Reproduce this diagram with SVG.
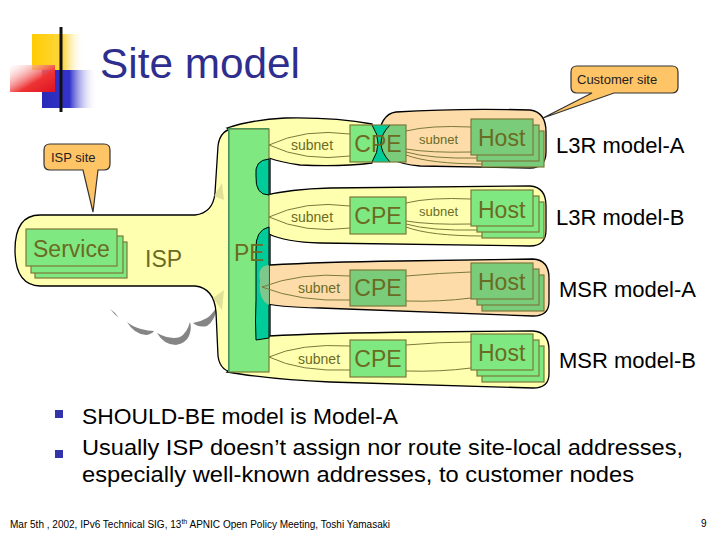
<svg xmlns="http://www.w3.org/2000/svg" width="720" height="540" viewBox="0 0 720 540">
<defs>
<linearGradient id="gY" x1="0" y1="0" x2="1" y2="0"><stop offset="0" stop-color="#ffcc00"/><stop offset="0.6" stop-color="#ffd740"/><stop offset="1" stop-color="#ffffff" stop-opacity="0"/></linearGradient>
<linearGradient id="gR" x1="0" y1="0" x2="1" y2="1"><stop offset="0" stop-color="#ffffff" stop-opacity="0.3"/><stop offset="0.6" stop-color="#ee3333"/><stop offset="1" stop-color="#dd1122"/></linearGradient>
<linearGradient id="gB" x1="0" y1="0" x2="1" y2="0"><stop offset="0" stop-color="#2a2ab8"/><stop offset="0.5" stop-color="#3333cc"/><stop offset="1" stop-color="#ffffff" stop-opacity="0"/></linearGradient>
<linearGradient id="gL" x1="0" y1="0" x2="1" y2="0"><stop offset="0" stop-color="#111111"/><stop offset="0.5" stop-color="#777777"/><stop offset="1" stop-color="#e6e6e6"/></linearGradient>
<g id="hostL"><rect x="11" y="12" width="62" height="36"/><rect x="6" y="6" width="62" height="36"/><rect x="0" y="0" width="62" height="36"/></g>
</defs>
<style>
.olv{font-family:"Liberation Sans",Arial,sans-serif;fill:#6b6b23}
.big{font-size:23px}
.sub{font-size:14px}
.lbl{font-family:"Liberation Sans",Arial,sans-serif;font-size:22px;fill:#000}
.blob{stroke:#000;stroke-width:1.3}
.yel{fill:#ffffb0}
.pch{fill:#fddcaa}
.gl{fill:#80e880;stroke:#7a7a3a;stroke-width:1.2}
.gd{fill:#7acc7a;stroke:#7a7a3a;stroke-width:1.2}
.thin{fill:none;stroke:#7a7a3a;stroke-width:1}
.teal{fill:#00cc99;stroke:#000;stroke-width:1}
.call{fill:#ffc466;stroke:#333;stroke-width:1.2}
.ctext{font-family:"Liberation Sans",Arial,sans-serif;font-size:13px;fill:#222}
.bul{font-family:"Liberation Sans",Arial,sans-serif;font-size:22px;fill:#000}
</style>
<rect width="720" height="540" fill="#fff"/>

<g id="logo">
<rect x="32" y="34" width="52" height="36" fill="url(#gY)"/>
<rect x="42" y="70" width="55" height="38" fill="url(#gB)"/>
<rect x="10" y="65" width="45" height="27" fill="url(#gR)"/>
<line x1="61" y1="27" x2="61" y2="112" stroke="#111" stroke-width="3"/>
<line x1="35" y1="93" x2="572" y2="93" stroke="url(#gL)" stroke-width="3"/>
</g>
<text id="title" x="100" y="78" font-family="Liberation Sans,Arial,sans-serif" font-size="43" fill="#2e2e8f" textLength="200" lengthAdjust="spacingAndGlyphs">Site model</text>

<g id="cloud-shadow" fill="#858585">
<path d="M110,309 Q115,312 119,318 Q114,314 110,309 Z"/>
<path d="M127,322 Q134,334 146,335 Q152,334 154,331 Q148,331 141,329 Q133,327 127,322 Z"/>
<path d="M157,333 Q164,345 176,345 Q186,343 189,336 Q192,328 190,322 Q187,333 180,337 Q170,340 157,333 Z"/>
<path d="M193,323 Q199,328 207,326 Q215,321 219,303 Q213,314 207,318 Q200,322 193,323 Z"/>
</g>

<g id="isp-site">
<path class="blob yel" d="M40,215 L195,215 Q213,213 215,193 L218,146 Q220,129 236,128 L270,127 L270,373 L236,373 Q220,372 218,356 L216,312 Q214,288 195,286 L40,286 Q15,285 15,250 Q15,215 40,215 Z"/>
<path d="M214,196 L222,183 L224,200 Z" fill="#d8d890" opacity="0.8"/>
<path d="M213,298 L224,290 L222,310 Z" fill="#d8d890" opacity="0.8"/>
</g>

<g id="service">
<rect class="gl" x="35" y="242" width="92" height="36"/>
<rect class="gl" x="31" y="236" width="92" height="37"/>
<rect class="gl" x="26" y="229" width="91" height="37"/>
<text class="olv big" x="33" y="257">Service</text>
</g>
<text id="isp" class="olv big" x="145" y="267">ISP</text>

<g id="row1">
<path class="blob yel" d="M227,128 Q250,120 285,118 Q335,117 372,124 L372,163 Q340,167 300,165 Q280,162 269,158 Z"/>
<path class="blob pch" d="M396,112 Q460,108 530,110 Q546,112 546,132 L546,152 Q546,168 530,168 L420,166 Q382,163 378,141 Q380,114 396,112 Z"/>
</g>
<g id="row2">
<path class="blob yel" d="M262,196 Q290,189 330,188 L530,186 Q546,187 546,206 L546,230 Q546,246 530,246 L320,243 Q285,242 269,234 Z"/>
</g>
<g id="row3">
<path class="blob pch" d="M270,265 Q320,262 400,261 L533,259 Q549,260 549,278 L549,302 Q549,316 533,316 L320,308 Q275,307 264,303 Q257,290 260,275 Q262,266 270,265 Z"/>
</g>
<g id="row4">
<path class="blob yel" d="M269,336 Q320,333 420,332 L533,331 Q549,332 549,350 L549,374 Q549,388 533,388 L330,382 Q280,380 240,374 L227,372 Z"/>
</g>

<g id="pe">
<rect x="228" y="128" width="41" height="244" fill="#00b38a"/>
<rect class="gl" x="229" y="129" width="40" height="243"/>
<path class="teal" d="M269,159 Q254,160 256,176 Q255,195 269,195 Z"/>
<path class="teal" d="M269,227 Q255,230 256,250 L256,300 Q255,322 256,340 L269,338 Z"/>
<path d="M269,265 Q257,266 260,280 Q258,300 269,305 Z" fill="#8cc78c" opacity="0.9"/>
<text class="olv big" x="234" y="261">PE</text>
</g>

<g id="subnets" class="thin">
<path d="M269,145 Q305,128 350,134 M269,145 Q305,162 350,156"/>
<path d="M269,217 Q305,200 350,206 M269,217 Q305,234 350,228"/>
<path d="M262,287 Q300,272 350,276 M262,287 Q300,302 350,300 M406,276 Q440,273 471,272 M406,301 Q440,302 471,298"/>
<path d="M269,357 Q300,343 350,346 M269,357 Q300,372 350,370 M406,345 Q440,342 471,342 M406,371 Q440,372 471,368"/>
<path d="M406,131 Q430,125 471,127 M406,149 Q430,153 471,152 M406,152 Q430,159 478,158 M406,155 Q430,164 484,164"/>
<path d="M406,203 Q430,197 471,199 M406,221 Q430,225 471,224 M406,224 Q430,231 478,230 M406,227 Q430,236 484,236"/>
</g>

<g id="subnet-labels" class="olv sub">
<text x="291" y="150">subnet</text>
<text x="291" y="222">subnet</text>
<text x="298" y="293">subnet</text>
<text x="298" y="364">subnet</text>
<text x="419" y="144" font-size="13">subnet</text>
<text x="419" y="216" font-size="13">subnet</text>
</g>

<g id="cpe1">
<rect x="350" y="125" width="56" height="37" fill="#00cc99"/>
<path d="M350,125 L372,125 Q384,143 372,162 L350,162 Z" fill="#80e880"/>
<path d="M406,125 L390,125 Q372,143 390,162 L406,162 Z" fill="#7acc7a"/>
<path d="M372,125 Q384,143 372,162 M390,125 Q372,143 390,162" fill="none" stroke="#000" stroke-width="1"/>
<rect x="350" y="125" width="56" height="37" fill="none" stroke="#7a7a3a" stroke-width="1.2"/>
<text class="olv big" x="378" y="152" text-anchor="middle">CPE</text>
</g>
<g id="cpe2"><rect class="gl" x="350" y="197" width="56" height="37"/><text class="olv big" x="378" y="224" text-anchor="middle">CPE</text></g>
<g id="cpe3"><rect class="gd" x="350" y="270" width="56" height="36"/><text class="olv big" x="378" y="296" text-anchor="middle">CPE</text></g>
<g id="cpe4"><rect class="gl" x="350" y="340" width="56" height="37"/><text class="olv big" x="378" y="367" text-anchor="middle">CPE</text></g>

<g id="host1" class="gd"><use href="#hostL" x="471" y="119"/><text class="olv big" x="478" y="146" stroke="none">Host</text></g>
<g id="host2" class="gl"><use href="#hostL" x="471" y="190"/><text class="olv big" x="478" y="218" stroke="none">Host</text></g>
<g id="host3" class="gd"><use href="#hostL" x="471" y="263"/><text class="olv big" x="478" y="290" stroke="none">Host</text></g>
<g id="host4" class="gl"><use href="#hostL" x="471" y="334"/><text class="olv big" x="478" y="361" stroke="none">Host</text></g>

<g id="labels">
<text class="lbl" x="556" y="153">L3R model-A</text>
<text class="lbl" x="556" y="225">L3R model-B</text>
<text class="lbl" x="559" y="297">MSR model-A</text>
<text class="lbl" x="559" y="368">MSR model-B</text>
</g>

<g id="callout-isp">
<path class="call" d="M50,144 L104,144 Q110,144 110,150 L110,164 Q110,170 104,170 L98,170 L93,212 L83,170 L50,170 Q44,170 44,164 L44,150 Q44,144 50,144 Z"/>
<text class="ctext" x="51" y="162">ISP site</text>
</g>
<g id="callout-customer">
<path class="call" d="M577,66 L672,66 Q678,66 678,72 L678,87 Q678,93 672,93 L614,93 L543,118 L592,93 L577,93 Q571,93 571,87 L571,72 Q571,66 577,66 Z"/>
<text class="ctext" x="577" y="84">Customer site</text>
</g>

<g id="bullets">
<rect x="55" y="410" width="8" height="8" fill="#3333aa"/>
<rect x="55" y="450" width="8" height="8" fill="#3333aa"/>
<text class="bul" x="82" y="424" textLength="316" lengthAdjust="spacingAndGlyphs">SHOULD-BE model is Model-A</text>
<text class="bul" x="82" y="455" textLength="601" lengthAdjust="spacingAndGlyphs">Usually ISP doesn’t assign nor route site-local addresses,</text>
<text class="bul" x="82" y="482" textLength="552" lengthAdjust="spacingAndGlyphs">especially well-known addresses, to customer nodes</text>
</g>

<g id="footer" font-family="Liberation Sans,Arial,sans-serif" font-size="10" fill="#000">
<text x="10" y="528" textLength="380" lengthAdjust="spacingAndGlyphs">Mar 5th , 2002, IPv6 Technical SIG, 13<tspan font-size="7" dy="-4">th</tspan><tspan dy="4"> APNIC Open Policy Meeting, Toshi Yamasaki</tspan></text>
<text x="701" y="527">9</text>
</g>
</svg>
